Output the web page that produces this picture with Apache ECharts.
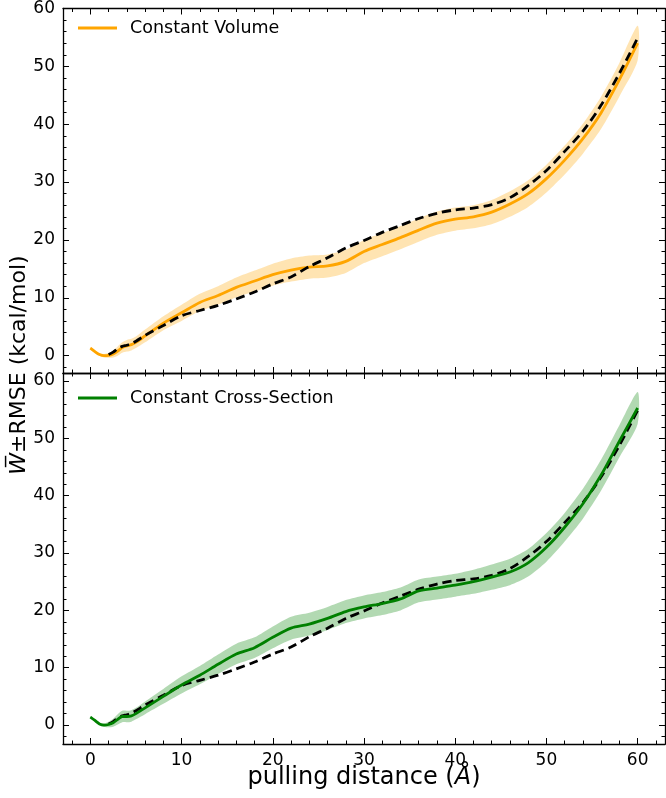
<!DOCTYPE html>
<html><head><meta charset="utf-8">
<script src="https://cdn.jsdelivr.net/npm/echarts@6/dist/echarts.min.js"></script>
<style>html,body{margin:0;padding:0;background:#fff}#c{width:666px;height:798px}</style>
</head><body><div id="c"></div>
<script>
// pulling distance (Å)
const xs = [0,0.5,1,1.5,2,2.5,3,3.5,4,4.5,5,
  6,8,10,12,14,16,18,20,22,24,26,28,30,32,34,36,38,40,42,44,46,48,50,52,54,56,58,60];
const constantVolume = [1.3,0.7,0.2,0,0.05,0.3,0.8,1.4,1.7,1.9,2.3,
  3.4,5.6,7.4,9.2,10.4,11.8,12.9,14.0,14.8,15.3,15.5,16.3,18.0,19.2,20.4,21.7,22.9,23.6,24.0,24.8,26.2,28.0,30.6,33.8,37.5,42.0,47.7,54.0];
const rmseVolume = [0.2,0.2,0.2,0.3,0.4,0.6,0.8,0.9,1.0,1.0,1.0,
  1.1,1.2,1.4,1.5,1.6,1.7,1.8,1.9,2.0,2.0,2.0,2.0,2.0,2.0,2.0,2.0,2.0,2.0,2.0,2.1,2.2,2.3,2.4,2.5,2.6,2.8,2.9,3.0];
const constantCrossSection = [1.4,0.8,0.2,0,0.1,0.4,1.0,1.5,1.5,1.6,2.0,
  3.0,5.0,7.0,8.7,10.6,12.4,13.5,15.3,16.9,17.6,18.6,19.8,20.6,21.2,22.0,23.4,23.9,24.4,25.0,25.8,26.7,28.3,31.0,34.5,38.6,43.6,49.5,55.3];
const rmseCrossSection = [0.2,0.2,0.2,0.3,0.5,0.7,0.9,1.0,1.0,1.0,1.0,
  1.1,1.3,1.5,1.6,1.7,1.8,1.8,1.9,2.0,2.0,2.0,2.0,2.0,2.0,2.0,2.0,2.0,2.0,2.1,2.2,2.3,2.4,2.5,2.5,2.6,2.7,2.8,2.8];
const reference = [null,null,null,null,0.2,0.6,1.2,1.6,1.8,2.1,2.5,
  3.5,5.2,6.9,7.8,8.7,9.8,11.0,12.4,13.6,15.4,16.9,18.6,19.9,21.3,22.5,23.7,24.6,25.2,25.5,26.1,27.3,29.4,32.0,35.3,38.8,43.3,48.8,54.9];

const xMajorTicks = [0,10,20,30,40,50,60];
const xMinorTicks = [-2,2,4,6,8,12,14,16,18,22,24,26,28,32,34,36,38,42,44,46,48,52,54,56,58,62];
const yMajorTicks = [0,10,20,30,40,50,60];
const yMinorTicks = [-2,2,4,6,8,12,14,16,18,22,24,26,28,32,34,36,38,42,44,46,48,52,54,56,58];

const FONT = 'DejaVu Sans';
const chart = echarts.init(document.getElementById('c'), null, {renderer: 'canvas'});

const grids = [
  {left: 63, right: 1, top: 5, height: 368},
  {left: 63, right: 1, top: 373, height: 371}
];
const yRanges = [[-3, 60], [-3.3, 61.4]];

const xAxes = [], yAxes = [];
function makeAxis(gi, pos, major, labels, isX) {
  const range = isX ? [-3, 63] : yRanges[gi];
  return {
    type: 'value', gridIndex: gi, position: pos, min: range[0], max: range[1],
    axisLine: {show: major, onZero: false, lineStyle: {color: '#000', width: 1.3}},
    splitLine: {show: false},
    axisTick: {show: true, inside: true, length: major ? 6 : 3.5,
      lineStyle: {color: '#000', width: 1},
      customValues: major ? (isX ? xMajorTicks : yMajorTicks) : (isX ? xMinorTicks : yMinorTicks)},
    axisLabel: {show: labels, color: '#000', fontFamily: FONT, fontSize: 17, margin: 8,
      customValues: isX ? xMajorTicks : yMajorTicks},
    z: 10
  };
}
for (let gi = 0; gi < 2; gi++) {
  xAxes.push(makeAxis(gi, 'bottom', true, gi === 1, true));
  xAxes.push(makeAxis(gi, 'bottom', false, false, true));
  xAxes.push(makeAxis(gi, 'top', true, false, true));
  xAxes.push(makeAxis(gi, 'top', false, false, true));
  yAxes.push(makeAxis(gi, 'left', true, true, false));
  yAxes.push(makeAxis(gi, 'left', false, false, false));
  yAxes.push(makeAxis(gi, 'right', true, false, false));
  yAxes.push(makeAxis(gi, 'right', false, false, false));
}

function pairs(vals) { return xs.map((x, i) => [x, vals[i]]); }

function panelSeries(gi, name, vals, rmse, color, fill, refOnTop) {
  const xi = gi * 4, yi = gi * 4;
  return [
    {type: 'custom', xAxisIndex: xi, yAxisIndex: yi, data: [[0, 0]], silent: true, z: 1,
      renderItem: function (params, api) {
        const up = xs.map((x, i) => api.coord([x, vals[i] + rmse[i]]));
        const lo = xs.map((x, i) => api.coord([x, vals[i] - rmse[i]])).reverse();
        return {type: 'polygon', shape: {points: up.concat(lo), smooth: 0.25},
          style: {fill: fill, stroke: null}};
      }},
    {type: 'line', name: name, xAxisIndex: xi, yAxisIndex: yi, data: pairs(vals),
      smooth: 0.3, symbol: 'none', lineStyle: {color: color, width: 2.8}, itemStyle: {color: color},
      z: refOnTop ? 3 : 5},
    {type: 'line', xAxisIndex: xi, yAxisIndex: yi, data: pairs(reference),
      smooth: 0.3, symbol: 'none', lineStyle: {color: '#000', width: 2.8, type: [9, 5]},
      z: 4}
  ];
}

const series = [].concat(
  panelSeries(0, 'Constant Volume', constantVolume, rmseVolume, '#FFA500', 'rgba(255,165,0,0.3)', true),
  panelSeries(1, 'Constant Cross-Section', constantCrossSection, rmseCrossSection, '#008000', 'rgba(0,128,0,0.3)', false)
);

const legendCommon = {orient: 'vertical', padding: 0, itemWidth: 39, itemHeight: 3, icon: 'rect',
  textStyle: {fontFamily: FONT, fontSize: 17.5, color: '#000', padding: [0, 0, 0, 8]},
  selectedMode: false};

chart.setOption({
  animation: false,
  backgroundColor: '#fff',
  grid: grids,
  xAxis: xAxes,
  yAxis: yAxes,
  legend: [
    Object.assign({left: 78, top: 19, data: ['Constant Volume']}, legendCommon),
    Object.assign({left: 78, top: 389, data: ['Constant Cross-Section']}, legendCommon)
  ],
  graphic: [
    {type: 'text', x: 364, y: 778, style: {text: 'pulling distance ({i|Å})', fontFamily: FONT, fontSize: 24,
      fill: '#000', align: 'center', verticalAlign: 'middle',
      rich: {i: {fontFamily: FONT, fontSize: 24, fontStyle: 'italic', fill: '#000'}}}},
    {type: 'text', x: 19, y: 365, rotation: Math.PI / 2,
      style: {text: '{i|W\u0305}±RMSE (kcal/mol)', fontFamily: FONT, fontSize: 22, fill: '#000',
        align: 'center', verticalAlign: 'middle',
        rich: {i: {fontFamily: FONT, fontSize: 22, fontStyle: 'italic', fill: '#000'}}}}
  ],
  series: series
});
</script>
</body></html>
